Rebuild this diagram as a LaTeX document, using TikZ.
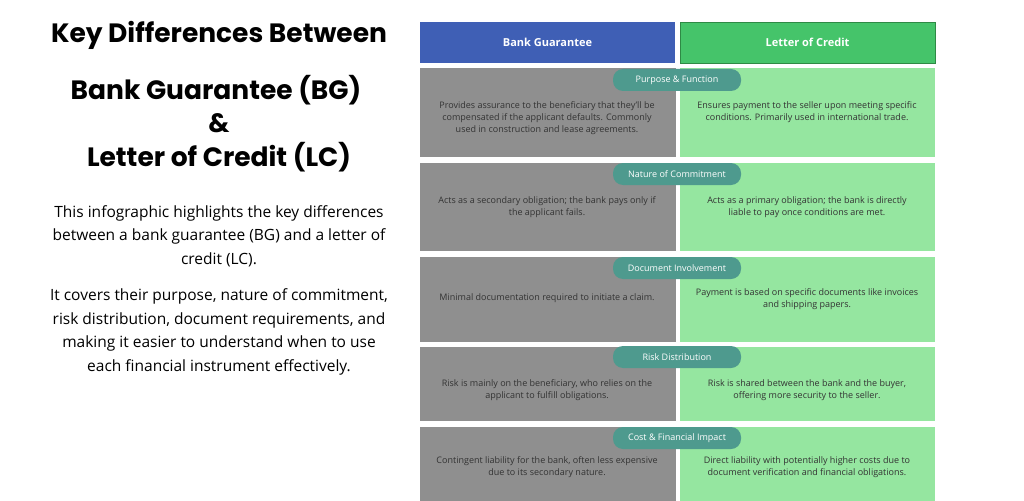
\documentclass[tikz,border=0pt]{standalone}
\usepackage{fontspec}
\setmainfont{Open Sans}
\newfontfamily\titlefont{Poppins}
\definecolor{bgblue}{HTML}{3F5FB5}
\definecolor{lcgreen}{HTML}{45C46A}
\definecolor{lcborder}{HTML}{2E8A45}
\definecolor{cellgray}{HTML}{8F8F8F}
\definecolor{cellgreen}{HTML}{95E6A0}
\definecolor{pillteal}{HTML}{4E9A8E}
\begin{document}
\begin{tikzpicture}[x=1pt,y=-1pt,
  hdr/.style={font=\fontsize{11}{13}\selectfont\bfseries,text=white},
  cell/.style={font=\fontsize{9}{12}\selectfont,text=black!80,align=center},
  pill/.style={fill=pillteal,rounded corners=10pt,minimum width=128pt,minimum height=22pt,inner sep=0pt,text=white,font=\fontsize{9}{10}\selectfont},
  ttl/.style={font=\titlefont\bfseries\fontsize{26.5}{30}\selectfont},
  body/.style={font=\fontsize{15.5}{23.5}\selectfont,align=center}]
\useasboundingbox (0,0) rectangle (1024,500);
\fill[white] (0,0) rectangle (1024,500);
% headers
\fill[bgblue] (420,22) rectangle (675,63);
\node[hdr] (hbg) at (547.5,42.5) {Bank Guarantee};
\fill[lcgreen,draw=lcborder,line width=0.8pt] (680,22) rectangle (935,63);
\node[hdr] (hlc) at (807.5,42.5) {Letter of Credit};
% rows
\foreach \a/\b [count=\i] in {68/157,163/251,257/342,347/421,427/502}{
  \fill[cellgray] (420,\a) rectangle (676,\b);
  \fill[cellgreen] (680,\a) rectangle (935,\b);
}
\node[pill] (p1) at (677,80) {Purpose \& Function};
\node[pill] (p2) at (677,174) {Nature of Commitment};
\node[pill] (p3) at (677,268) {Document Involvement};
\node[pill] (p4) at (677,357) {Risk Distribution};
\node[pill] (p5) at (677,438) {Cost \& Financial Impact};
\node[cell] (l1) at (547,118) {Provides assurance to the beneficiary that they’ll be\\compensated if the applicant defaults. Commonly\\used in construction and lease agreements.};
\node[cell] (r1) at (807,112) {Ensures payment to the seller upon meeting specific\\conditions. Primarily used in international trade.};
\node[cell] (l2) at (547,207) {Acts as a secondary obligation; the bank pays only if\\the applicant fails.};
\node[cell] (r2) at (807,207) {Acts as a primary obligation; the bank is directly\\liable to pay once conditions are met.};
\node[cell] (l3) at (547,298) {Minimal documentation required to initiate a claim.};
\node[cell] (r3) at (807,299) {Payment is based on specific documents like invoices\\and shipping papers.};
\node[cell] (l4) at (547,390) {Risk is mainly on the beneficiary, who relies on the\\applicant to fulfill obligations.};
\node[cell] (r4) at (807,390) {Risk is shared between the bank and the buyer,\\offering more security to the seller.};
\node[cell] (l5) at (547,467) {Contingent liability for the bank, often less expensive\\due to its secondary nature.};
\node[cell] (r5) at (807,467) {Direct liability with potentially higher costs due to\\document verification and financial obligations.};
% left text
\node[ttl] (t1) at (219,35) {Key Differences Between};
\node[ttl] (t2) at (216,90) {Bank Guarantee (BG)};
\node[ttl] (t3) at (219,123) {\&};
\node[ttl] (t4) at (219,157) {Letter of Credit (LC)};
\node[body] (b1) at (219,236) {This infographic highlights the key differences\\between a bank guarantee (BG) and a letter of\\credit (LC).};
\node[body] (b2) at (219,332) {It covers their purpose, nature of commitment,\\risk distribution, document requirements, and\\making it easier to understand when to use\\each financial instrument effectively.};
\end{tikzpicture}
\end{document}
